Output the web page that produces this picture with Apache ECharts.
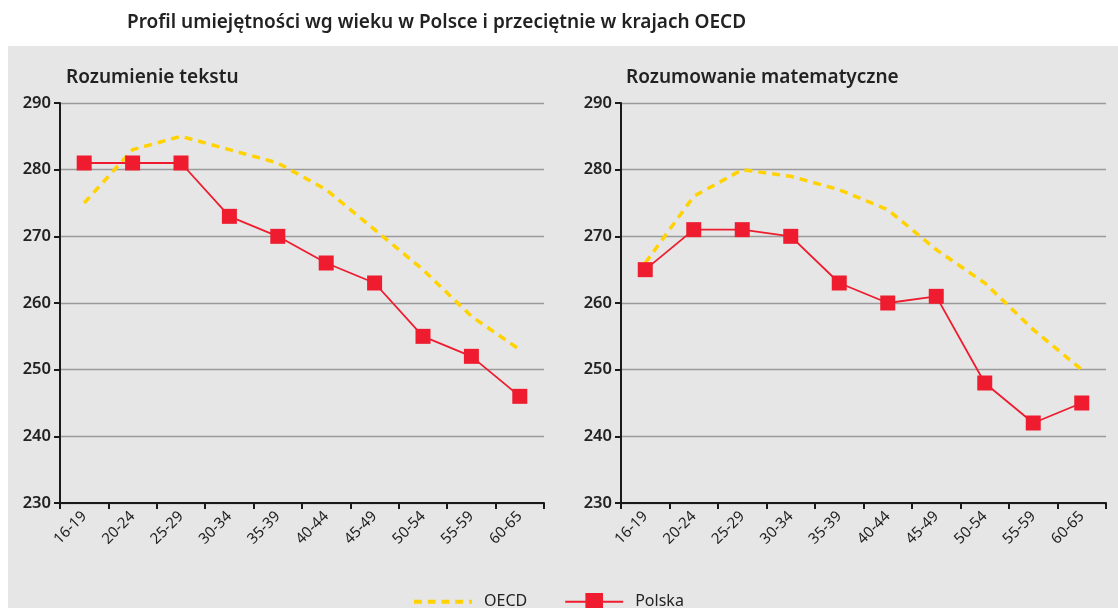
<!DOCTYPE html>
<html>
<head>
<meta charset="utf-8">
<script src="https://cdn.jsdelivr.net/npm/echarts@6/dist/echarts.min.js"></script>
<style>
  html, body { margin: 0; padding: 0; background: #fff; }
  #main { width: 1118px; height: 608px; }
</style>
</head>
<body>
<div id="main"></div>
<script>
// age groups
var ages = ['16-19', '20-24', '25-29', '30-34', '35-39', '40-44', '45-49', '50-54', '55-59', '60-65'];

// Rozumienie tekstu
var textOecd = [275, 283, 285, 283, 281, 277, 271, 265, 258, 253];
var textPolska = [281, 281, 281, 273, 270, 266, 263, 255, 252, 246];

// Rozumowanie matematyczne
var mathOecd = [266, 276, 280, 279, 277, 274, 268, 263, 256, 250];
var mathPolska = [265, 271, 271, 270, 263, 260, 261, 248, 242, 245];

var panelTitles = ['Rozumienie tekstu', 'Rozumowanie matematyczne'];
var yMin = 230, yMax = 290, yStep = 10;

var FONT = '"Noto Sans", sans-serif';
var RED = '#ee1c2e';
var YELLOW = '#ffd200';
// dashed bar used as the OECD legend icon
var DASH_ICON = 'path://M0,0h8v4h-8z M14,0h8v4h-8z M28,0h8v4h-8z M42,0h8v4h-8z M56,0h3v4h-3z';

var chart = echarts.init(document.getElementById('main'));

function xAxis(i) {
  return {
    type: 'category',
    gridIndex: i,
    data: ages,
    boundaryGap: true,
    axisLine: { lineStyle: { color: '#1a1a1a', width: 2 } },
    axisTick: { show: true, length: 6, lineStyle: { color: '#1a1a1a', width: 2 } },
    axisLabel: { rotate: 45, margin: 11, color: '#1e1e1e', fontSize: 15, fontFamily: FONT },
    splitLine: { show: false }
  };
}

function yAxis(i) {
  return {
    type: 'value',
    gridIndex: i,
    min: yMin,
    max: yMax,
    interval: yStep,
    axisLine: { show: true, lineStyle: { color: '#1a1a1a', width: 2 } },
    axisTick: { show: true, length: 6, lineStyle: { color: '#1a1a1a', width: 2 } },
    axisLabel: { margin: 9, color: '#222', fontSize: 16.5, fontWeight: 600, fontFamily: FONT },
    splitLine: { lineStyle: { color: '#9a9a9a', width: 1.3 } }
  };
}

function oecd(data, i) {
  return {
    name: 'OECD',
    type: 'line',
    xAxisIndex: i,
    yAxisIndex: i,
    data: data,
    symbol: 'none',
    lineStyle: { color: YELLOW, width: 3.5, type: [8, 6] },
    itemStyle: { color: YELLOW },
    z: 2
  };
}

function polska(data, i) {
  return {
    name: 'Polska',
    type: 'line',
    xAxisIndex: i,
    yAxisIndex: i,
    data: data,
    symbol: 'rect',
    symbolSize: 15,
    lineStyle: { color: RED, width: 1.8 },
    itemStyle: { color: RED },
    z: 3
  };
}

chart.setOption({
  backgroundColor: '#fff',
  animation: false,
  graphic: [{
    type: 'rect',
    shape: { x: 8, y: 46, width: 1120, height: 570 },
    style: { fill: '#e6e6e6' },
    z: -10
  }],
  title: [
    {
      text: 'Profil umiejętności wg wieku w Polsce i przeciętnie w krajach OECD',
      left: 122, top: 8,
      textStyle: { fontSize: 19, fontWeight: 600, color: '#222', fontFamily: FONT }
    },
    {
      text: panelTitles[0],
      left: 61, top: 63,
      textStyle: { fontSize: 19, fontWeight: 600, color: '#222', fontFamily: FONT }
    },
    {
      text: panelTitles[1],
      left: 621, top: 63,
      textStyle: { fontSize: 19, fontWeight: 600, color: '#222', fontFamily: FONT }
    }
  ],
  legend: {
    left: 414,
    top: 593,
    padding: 0,
    itemWidth: 58,
    itemHeight: 22,
    itemGap: 37,
    data: [{ name: 'OECD', icon: DASH_ICON }, 'Polska'],
    textStyle: { fontSize: 16, color: '#222', fontFamily: FONT, padding: [0, 0, 0, 7] }
  },
  grid: [
    { left: 60, top: 103, width: 484, height: 400 },
    { left: 621, top: 103, width: 485, height: 400 }
  ],
  xAxis: [xAxis(0), xAxis(1)],
  yAxis: [yAxis(0), yAxis(1)],
  series: [
    oecd(textOecd, 0),
    polska(textPolska, 0),
    oecd(mathOecd, 1),
    polska(mathPolska, 1)
  ]
});
</script>
</body>
</html>
